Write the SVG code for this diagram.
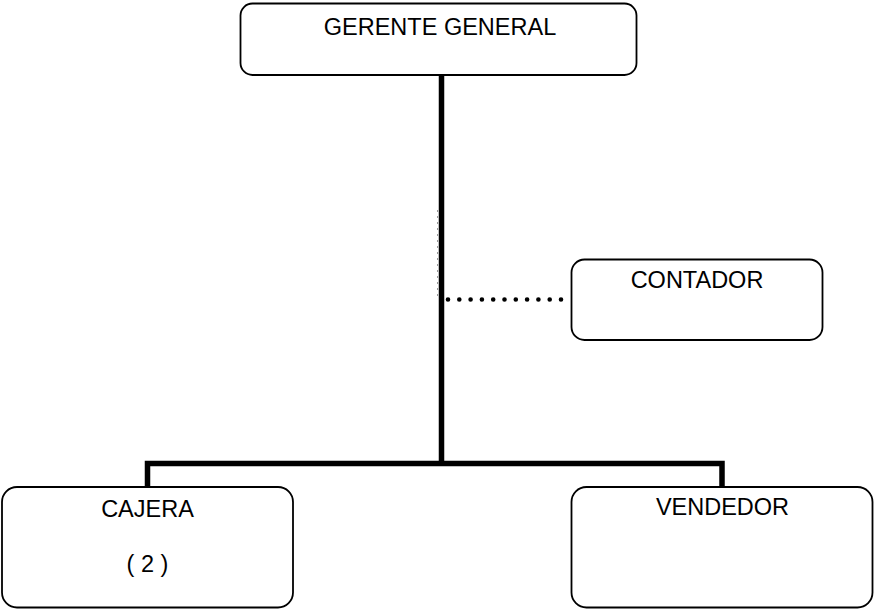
<svg xmlns="http://www.w3.org/2000/svg" width="874" height="610" viewBox="0 0 874 610">
<style>
.box{fill:#fff;stroke:#000;stroke-width:1.8}
.lbl{font-family:"Liberation Sans",Arial,sans-serif;font-size:23.5px;fill:#000;text-anchor:middle}
.solid{fill:none;stroke:#000;stroke-width:5.5;stroke-linecap:butt;stroke-linejoin:miter}
.dots{fill:none;stroke:#000;stroke-width:4.6;stroke-linecap:round;stroke-dasharray:0 11.3}
.faint{fill:none;stroke:#999;stroke-width:1;stroke-dasharray:2 4}
</style>
<g id="connectors">
<line class="faint" x1="437.5" y1="210" x2="437.5" y2="300"/>
<line class="solid" x1="441.5" y1="75" x2="441.5" y2="466"/>
<polyline class="solid" points="147.5,487 147.5,463.5 722,463.5 722,487"/>
<line class="dots" x1="448" y1="299.5" x2="568" y2="299.5"/>
</g>
<g id="gerente">
<rect class="box" x="240.5" y="3.5" width="396" height="71.5" rx="12"/>
<text class="lbl" x="440" y="35">GERENTE GENERAL</text>
</g>
<g id="contador">
<rect class="box" x="571.5" y="259.5" width="251" height="80.5" rx="13"/>
<text class="lbl" x="697" y="288">CONTADOR</text>
</g>
<g id="cajera">
<rect class="box" x="2" y="487" width="291" height="120.5" rx="15"/>
<text class="lbl" x="147.5" y="517">CAJERA</text>
<text class="lbl" x="147.5" y="572">( 2 )</text>
</g>
<g id="vendedor">
<rect class="box" x="571.5" y="487" width="301" height="120.5" rx="15"/>
<text class="lbl" x="722.5" y="515">VENDEDOR</text>
</g>
</svg>
